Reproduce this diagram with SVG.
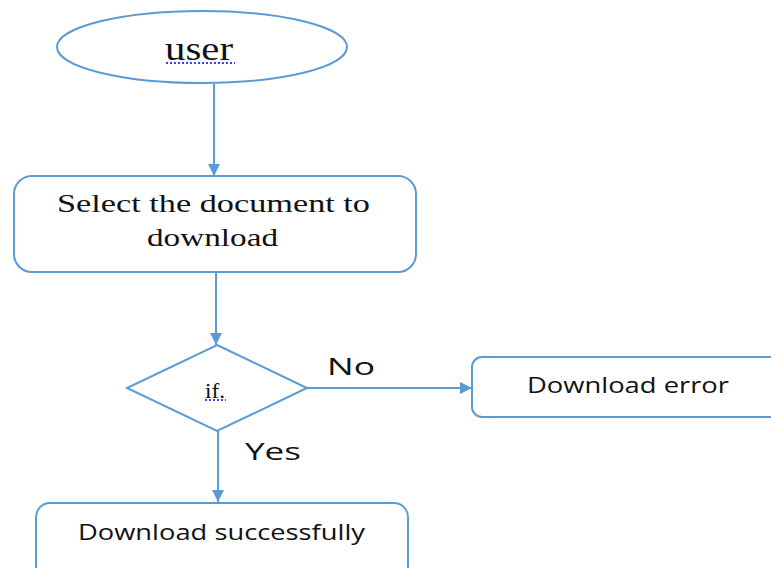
<svg xmlns="http://www.w3.org/2000/svg" width="771" height="568" viewBox="0 0 771 568">
  <style>
    .shape { fill: #ffffff; stroke: #5b9bd5; stroke-width: 2; }
    .link { fill: none; stroke: #5b9bd5; stroke-width: 2; }
    .serif { font-family: "Liberation Serif", "Times New Roman", serif; fill: #111111; }
    .sans { font-family: "Open Sans", "Liberation Sans", Arial, sans-serif; fill: #111111; }
    .squiggle { stroke: #3344ff; stroke-width: 2; stroke-dasharray: 2 2; fill: none; }
  </style>
  <defs>
    <marker id="arrow" viewBox="0 0 10 10" refX="10" refY="5" markerWidth="6" markerHeight="6" orient="auto" markerUnits="strokeWidth">
      <path d="M0,0 L10,5 L0,10 z" fill="#5b9bd5"/>
    </marker>
  </defs>
  <rect width="771" height="568" fill="#ffffff"/>

  <g id="connectors">
    <line class="link" x1="214" y1="84" x2="214" y2="176" marker-end="url(#arrow)"/>
    <line class="link" x1="216" y1="272" x2="216" y2="345" marker-end="url(#arrow)"/>
    <line class="link" x1="307" y1="388" x2="472" y2="388" marker-end="url(#arrow)"/>
    <line class="link" x1="218" y1="431" x2="218" y2="502" marker-end="url(#arrow)"/>
  </g>

  <g id="user">
    <ellipse class="shape" cx="202" cy="47" rx="145" ry="36"/>
    <text class="serif" x="165" y="60" font-size="33" textLength="68" lengthAdjust="spacingAndGlyphs">user</text>
    <line class="squiggle" x1="166" y1="63" x2="235" y2="63"/>
  </g>

  <g id="select">
    <rect class="shape" x="14" y="176" width="402" height="96" rx="18"/>
    <text class="serif" x="57" y="212" font-size="26" textLength="313" lengthAdjust="spacingAndGlyphs">Select the document to</text>
    <text class="serif" x="147" y="246" font-size="26" textLength="131" lengthAdjust="spacingAndGlyphs">download</text>
  </g>

  <g id="decision">
    <polygon class="shape" points="217,345 307,388 217,431 127,388"/>
    <text class="serif" x="205" y="398" font-size="22" textLength="20" lengthAdjust="spacingAndGlyphs">if.</text>
    <line class="squiggle" x1="205" y1="400" x2="226" y2="400"/>
  </g>

  <g id="label-no">
    <text class="sans" x="327" y="375" font-size="24" textLength="48" lengthAdjust="spacingAndGlyphs">No</text>
  </g>
  <g id="label-yes">
    <text class="sans" x="245" y="460" font-size="24" textLength="56" lengthAdjust="spacingAndGlyphs">Yes</text>
  </g>

  <g id="error">
    <rect class="shape" x="472" y="357" width="320" height="60" rx="10"/>
    <text class="sans" x="527" y="393" font-size="22" textLength="202" lengthAdjust="spacingAndGlyphs">Download error</text>
  </g>

  <g id="success">
    <rect class="shape" x="36" y="503" width="372" height="80" rx="14"/>
    <text class="sans" x="78" y="540" font-size="22" textLength="287" lengthAdjust="spacingAndGlyphs">Download successfully</text>
  </g>
</svg>
